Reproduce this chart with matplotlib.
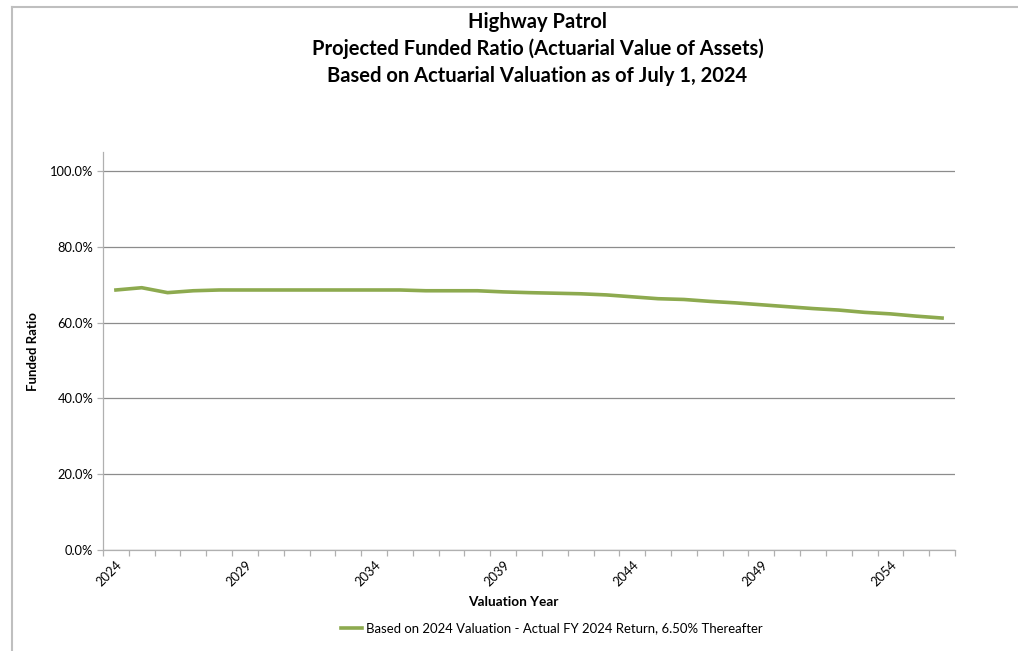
import matplotlib.pyplot as plt
import matplotlib.ticker as mtick
from matplotlib.lines import Line2D
import numpy as np

plt.rcParams['font.family'] = ['Lato', 'DejaVu Sans']

# valuation years and projected funded ratio (AVA basis)
years = list(range(2024, 2057))
funded_ratio = [68.6, 69.2, 67.9, 68.4, 68.6, 68.6, 68.6, 68.6, 68.6, 68.6,
                68.6, 68.6, 68.4, 68.4, 68.4, 68.1, 67.9, 67.75, 67.6, 67.3,
                66.8, 66.3, 66.1, 65.6, 65.2, 64.7, 64.2, 63.7, 63.3, 62.7,
                62.3, 61.7, 61.2]
series_label = 'Based on 2024 Valuation - Actual FY 2024 Return, 6.50% Thereafter'

title_lines = ['Highway Patrol',
               'Projected Funded Ratio (Actuarial Value of Assets)',
               'Based on Actuarial Valuation as of July 1, 2024']

fig = plt.figure(figsize=(10.18, 6.51), dpi=100)
ax = fig.add_axes([0.1012, 0.1551, 0.8369, 0.6114])

x = np.arange(len(years))
ax.plot(x, np.array(funded_ratio) / 100, color='#8DAA4F', lw=2.6,
        solid_joinstyle='round', label=series_label)

ax.set_xlim(-0.5, len(years) - 0.5)
ax.set_ylim(0, 1.05)
ax.set_yticks(np.arange(0, 1.01, 0.2))
ax.yaxis.set_major_formatter(mtick.PercentFormatter(1.0, decimals=1))
ax.yaxis.grid(True, color='#8C8C8C', lw=0.9)
ax.set_axisbelow(True)

# tick marks at category boundaries, labels every 5 years
ax.set_xticks(np.arange(-0.5, len(years), 1.0), minor=True)
ax.set_xticks(x[::5])
ax.set_xticklabels([str(y) for y in years[::5]], rotation=45, ha='right',
                   rotation_mode='anchor', fontsize=9.3)
ax.tick_params(axis='x', which='major', length=0, pad=6)
ax.tick_params(axis='x', which='minor', length=4, color='#B0B0B0', width=0.9)
ax.tick_params(axis='y', length=4, color='#B0B0B0', width=0.9, labelsize=9.3, pad=3)

for s in ['top', 'right']:
    ax.spines[s].set_visible(False)
for s in ['left', 'bottom']:
    ax.spines[s].set_color('#B0B0B0')
    ax.spines[s].set_linewidth(0.9)

ax.set_xlabel('Valuation Year', fontsize=9.8, fontweight='bold')
ax.xaxis.set_label_coords(0.482, -0.115)
ax.set_ylabel('Funded Ratio', fontsize=9.5, fontweight='bold')
ax.yaxis.set_label_coords(-0.075, 0.5)

fig.text(0.528, 0.982, '\n'.join(title_lines), ha='center', va='top',
         fontsize=14.5, fontweight='bold', linespacing=1.42)

fig.legend(handles=[Line2D([], [], color='#8DAA4F', lw=2.6)], labels=[series_label],
           loc='center', bbox_to_anchor=(0.542, 0.035), frameon=False,
           fontsize=9.45, handlelength=1.6, handletextpad=0.3)

# chart area border (left and top edges visible)
fig.add_artist(Line2D([0.0118, 0.0118], [0, 0.989], color='#BFBFBF', lw=1.5,
                      transform=fig.transFigure))
fig.add_artist(Line2D([0.0118, 1.0], [0.989, 0.989], color='#BFBFBF', lw=1.5,
                      transform=fig.transFigure))

fig.savefig('out.png', dpi=100)
